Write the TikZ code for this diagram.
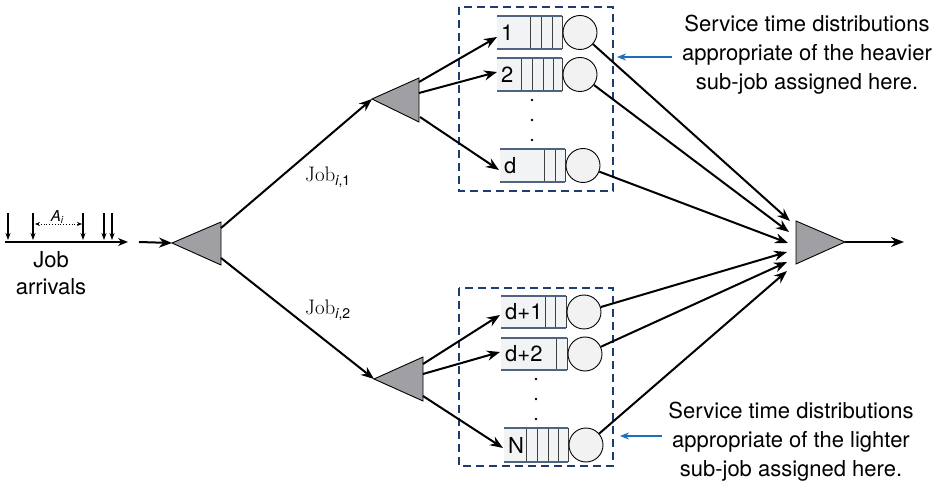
\documentclass[tikz,border=0pt]{standalone}
\usepackage[no-math]{fontspec}
\setsansfont{TeX Gyre Heros}
\usetikzlibrary{arrows.meta}
\definecolor{boxblue}{RGB}{30,60,110}
\definecolor{callblue}{RGB}{30,110,190}
\definecolor{qedge}{RGB}{80,100,130}
\definecolor{tri}{RGB}{160,160,164}
\definecolor{qfill}{RGB}{242,243,244}
\definecolor{cfill}{RGB}{242,242,242}
\tikzset{
 conn/.style={line width=2pt, -{Stealth[length=13pt,width=10pt]}},
 tribox/.style={fill=tri, draw=black, line width=0.9pt, line join=miter},
 dbox/.style={draw=boxblue, line width=1.9pt, dash pattern=on 8pt off 5pt},
 qbody/.style={fill=qfill},
 qline/.style={draw=qedge, line width=1.1pt},
 slot/.style={draw=black!75, line width=0.9pt},
 server/.style={circle, draw=black, line width=0.9pt, fill=cfill, minimum size=34pt, inner sep=0pt},
 qlab/.style={font=\sffamily\fontsize{22}{22}\selectfont, anchor=west, inner sep=0pt},
 note/.style={font=\sffamily\fontsize{22}{29}\selectfont, align=center},
 callout/.style={draw=callblue, line width=1.5pt, -{Stealth[length=9pt,width=7pt]}},
 arr/.style={line width=1.1pt, -{Stealth[length=7pt,width=5pt]}},
}
\newcommand\myqueue[8]{%
 \fill[qbody] (#2,#3) rectangle (#4,#5);
 \foreach \s in {#6} \draw[slot] (\s,#3) -- (\s,#5);
 \draw[slot] (#4,#3) -- (#4,#5);
 \draw[qline] (#2,#3) -- (#4,#3) (#2,#5) -- (#4,#5);
 \node[qlab] (#1l) at (#2+4,{(#3+#5)/2}) {#7};
 \node[server] (#1) at (#8,{(#3+#5)/2}) {};
}
\begin{document}
\begin{tikzpicture}[x=1pt,y=-1pt]
\useasboundingbox (0,0) rectangle (946,486);
% dashed boxes
\draw[dbox] (459,7) rectangle (613,191);
\draw[dbox] (459,288) rectangle (613,466);
% queues
\myqueue{q1}{497}{16}{562}{49}{530,541,552}{1}{580}
\myqueue{q2}{497}{58}{562}{91}{521,532,543,553}{2}{580}
\myqueue{qd}{500}{149}{565}{182}{544,555}{d}{583}
\myqueue{qe}{501}{296}{566}{328}{545,555}{d+1}{584}
\myqueue{qf}{501}{338}{567}{370}{556}{d+2}{585}
\myqueue{qN}{504}{428}{568}{462}{526,537,548,558}{N}{586}
% dots
\foreach \yy in {100,120,140} \fill (532,\yy) circle (1.4);
\foreach \yy in {379,399,419} \fill (536,\yy) circle (1.4);
% triangles
\filldraw[tribox] (172,243) coordinate (s0tip) -- (221,222) -- (221,265) -- cycle;
\filldraw[tribox] (372,99) coordinate (s1tip) -- (419,78) -- (419,122) -- cycle;
\filldraw[tribox] (374,379) coordinate (s2tip) -- (423,357) -- (423,401) -- cycle;
\filldraw[tribox] (845,242) coordinate (mtip) -- (796,221) -- (796,264) -- cycle;
% splitter outlets
\coordinate (s0a) at (221,228); \coordinate (s0b) at (221,258);
\coordinate (s1a) at (419,82); \coordinate (s1b) at (419,93); \coordinate (s1c) at (420,117);
\coordinate (s2a) at (423,364); \coordinate (s2b) at (423,374); \coordinate (s2c) at (423,396);
% queue inlets
\coordinate (in1) at (497,37); \coordinate (in2) at (497,72); \coordinate (ind) at (499,170);
\coordinate (ine) at (500,315); \coordinate (inf) at (500,352); \coordinate (inN) at (503,448);
% merger inlets
\coordinate (m1) at (790,221); \coordinate (m2) at (789,232); \coordinate (m3) at (788,243);
\coordinate (m4) at (787,252); \coordinate (m5) at (787,262); \coordinate (m6) at (787,271);
\coordinate (out) at (904,242);
\draw[conn] (s0a) -- (s1tip);
\draw[conn] (s0b) -- (s2tip);
\draw[conn] (s1a) -- (in1);
\draw[conn] (s1b) -- (in2);
\draw[conn] (s1c) -- (ind);
\draw[conn] (s2a) -- (ine);
\draw[conn] (s2b) -- (inf);
\draw[conn] (s2c) -- (inN);
\draw[conn] (q1) -- (m1);
\draw[conn] (q2) -- (m2);
\draw[conn] (qd) -- (m3);
\draw[conn] (qe) -- (m4);
\draw[conn] (qf) -- (m5);
\draw[conn] (qN) -- (m6);
\draw[conn] (mtip) -- (out);
% arrivals
\coordinate (tl0) at (5,242); \coordinate (tl1) at (128,242);
\draw[line width=1.9pt, -{Stealth[length=10pt,width=8pt]}] (tl0) -- (tl1);
\foreach \xx in {8,33,83,104,112} {
  \coordinate (va) at (\xx,213); \coordinate (vb) at (\xx,240);
  \draw[arr] (va) -- (vb);
}
\coordinate (ai0) at (35,224); \coordinate (ai1) at (82,224);
\draw[line width=0.8pt, dotted, {Stealth[length=5pt,width=4pt]}-{Stealth[length=5pt,width=4pt]}] (ai0) -- (ai1);
\node[font=\sffamily\itshape\fontsize{15}{15}\selectfont, fill=white, inner sep=0.5pt] (ai) at (57,217) {A\raisebox{-2pt}{\fontsize{10}{10}\selectfont i}};
\node[note, font=\sffamily\fontsize{22}{27}\selectfont] (arrivals) at (51,273) {Job\\arrivals};
\coordinate (inA) at (139,242);
\draw[conn] (inA) -- (s0tip);
% job labels
\node[anchor=base west, inner sep=0pt] (job1) at (305,182) {{\rmfamily\fontsize{21}{21}\selectfont Job}\raisebox{-4pt}{\sffamily\fontsize{14}{14}\selectfont\itshape i\upshape,1}};
\node[anchor=base west, inner sep=0pt] (job2) at (305,315) {{\rmfamily\fontsize{21}{21}\selectfont Job}\raisebox{-4pt}{\sffamily\fontsize{14}{14}\selectfont\itshape i\upshape,2}};
% notes
\node[note] (note1) at (807,55) {Service time distributions\\appropriate of the heavier\\sub-job assigned here.};
\node[note] (note2) at (791,442) {Service time distributions\\appropriate of the lighter\\sub-job assigned here.};
\coordinate (c1s) at (672,57); \coordinate (c1e) at (617,57);
\coordinate (c2s) at (662,436); \coordinate (c2e) at (620,436);
\draw[callout] (c1s) -- (c1e);
\draw[callout] (c2s) -- (c2e);
\end{tikzpicture}
\end{document}
